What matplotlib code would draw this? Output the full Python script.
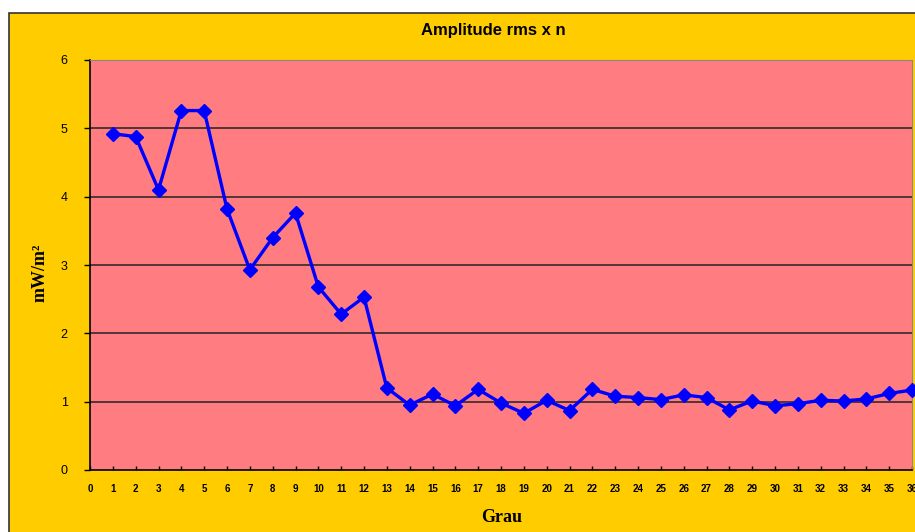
import matplotlib
matplotlib.use("Agg")
import matplotlib.pyplot as plt
from matplotlib.patches import Rectangle

grau = list(range(1, 37))
amplitude = [4.92, 4.88, 4.10, 5.26, 5.26, 3.82, 2.93, 3.40, 3.76, 2.68,
             2.28, 2.53, 1.20, 0.95, 1.11, 0.94, 1.18, 0.98, 0.83, 1.02,
             0.87, 1.18, 1.08, 1.06, 1.03, 1.10, 1.06, 0.88, 1.01, 0.94,
             0.97, 1.02, 1.01, 1.04, 1.12, 1.17]
x_ticks = list(range(0, 37))
y_ticks = [0, 1, 2, 3, 4, 5, 6]

W, H = 915, 532
fig = plt.figure(figsize=(W / 100, H / 100), dpi=100)
fig.patch.set_facecolor("white")
fig.add_artist(Rectangle((9 / W, -0.05), 1.1, (H - 13) / H + 0.05,
                         transform=fig.transFigure, facecolor="#FFCC00",
                         edgecolor="#333333", linewidth=1.2, zorder=0))

ax = fig.add_axes([90 / W, (H - 470) / H, (912 - 90) / W, (470 - 60) / H])
ax.set_facecolor("#FF7C80")
ax.plot(grau, amplitude, color="#0000FF", linewidth=2.4, marker="D",
        markersize=7, clip_on=False, zorder=3)
ax.set_xlim(0, 36)
ax.set_ylim(0, 6)
ax.set_xticks(x_ticks)
ax.set_xticklabels([str(v) for v in x_ticks], fontsize=7, fontweight="bold",
                   family="Liberation Sans")
ax.set_yticks(y_ticks)
ax.set_yticklabels([str(v) for v in y_ticks], fontsize=9, family="Liberation Sans")
for y in y_ticks[1:-1]:
    ax.axhline(y, color="#222222", linewidth=1.1, zorder=1)
ax.tick_params(axis="x", direction="in", length=3, width=1, pad=10, colors="black")
ax.tick_params(axis="y", direction="out", length=4, width=1, pad=12)
ax.spines["left"].set_color("black")
ax.spines["bottom"].set_color("black")
ax.spines["left"].set_linewidth(1.2)
ax.spines["bottom"].set_linewidth(1.2)
ax.spines["top"].set_color("#888888")
ax.spines["right"].set_color("#888888")

fig.text(493 / W, 1 - 31 / H, "Amplitude rms x n", ha="center", va="center",
         fontsize=12, fontweight="bold", family="Liberation Sans")
fig.text(502 / W, 1 - 518 / H, "Grau", ha="center", va="center",
         fontsize=13, fontweight="bold", family="Liberation Serif")
fig.text(40 / W, 1 - 273 / H, "mW/m²", ha="center", va="center", rotation=90,
         fontsize=13, fontweight="bold", family="Liberation Serif")

fig.savefig("out.png", dpi=100)
